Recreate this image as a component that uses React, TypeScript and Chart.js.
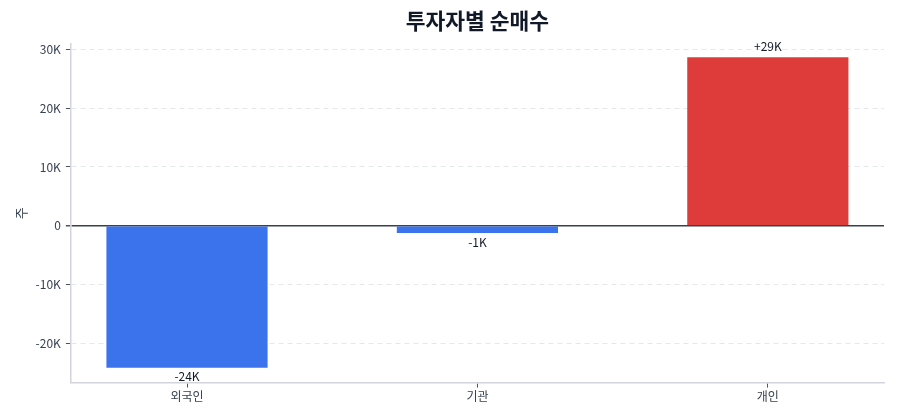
import React, { useEffect, useRef } from 'react'
import Chart, { ChartConfiguration, Plugin } from 'chart.js/auto'

const categories = ['외국인', '기관', '개인']
const netBuy = [-24100, -1200, 28600]
const barColors = ['#3b73ed', '#3b73ed', '#de3b3b']
const yTicks = [-20000, -10000, 0, 10000, 20000, 30000]
const yMin = -26600
const yMax = 30900

const FONT = "'Noto Sans CJK KR', 'Noto Sans', sans-serif"

const fmtK = (v: number) => (v === 0 ? '0' : `${Math.round(v / 1000)}K`)
const fmtSigned = (v: number) => (v > 0 ? '+' : '') + `${Math.round(v / 1000)}K`

// value labels above positive / below negative bars
const barLabels: Plugin<'bar'> = {
  id: 'barLabels',
  afterDatasetsDraw(chart) {
    const { ctx } = chart
    const meta = chart.getDatasetMeta(0)
    ctx.save()
    ctx.font = `12px ${FONT}`
    ctx.fillStyle = '#111827'
    ctx.textAlign = 'center'
    meta.data.forEach((el, i) => {
      const v = netBuy[i]
      const { x, y } = el.getProps(['x', 'y'], true) as { x: number; y: number }
      if (v >= 0) {
        ctx.textBaseline = 'bottom'
        ctx.fillText(fmtSigned(v), x, y - 5)
      } else {
        ctx.textBaseline = 'top'
        ctx.fillText(fmtSigned(v), x, y + 3)
      }
    })
    ctx.restore()
  },
}

const NetBuyChart = () => {
  const chartRef = useRef<HTMLCanvasElement>(null)
  const chartInstance = useRef<Chart<'bar'>>()

  useEffect(() => {
    document.body.style.margin = '0'
    if (chartRef.current) {
      const ctx = chartRef.current.getContext('2d')
      if (ctx) {
        const config: ChartConfiguration<'bar', { x: number; y: number }[], string> = {
          type: 'bar',
          data: {
            datasets: [
              {
                data: netBuy.map((y, x) => ({ x, y })),
                backgroundColor: barColors,
                barPercentage: 0.555,
                categoryPercentage: 1,
              },
            ],
          },
          options: {
            animation: false,
            responsive: true,
            maintainAspectRatio: false,
            layout: { padding: { left: 13, right: 16, top: 0, bottom: 14 } },
            plugins: {
              legend: { display: false },
              tooltip: { enabled: false },
              title: {
                display: true,
                fullSize: false,
                text: '투자자별 순매수',
                color: '#111827',
                font: { family: FONT, size: 21.5, weight: 'bold' },
                padding: { top: 8, bottom: 10 },
              },
            },
            scales: {
              x: {
                type: 'linear',
                min: -0.4,
                max: categories.length - 0.6,
                offset: false,
                afterBuildTicks: (scale) => {
                  scale.ticks = categories.map((_, value) => ({ value }))
                },
                grid: {
                  offset: false,
                  drawOnChartArea: false,
                  tickLength: 5,
                  tickColor: '#4b5563',
                },
                border: { color: '#d1d5db', width: 1.5 },
                ticks: {
                  color: '#374151',
                  font: { family: FONT, size: 12 },
                  padding: 2,
                  callback: (v) => categories[Number(v)] ?? '',
                },
              },
              y: {
                min: yMin,
                max: yMax,
                afterBuildTicks: (scale) => {
                  scale.ticks = yTicks.map((value) => ({ value }))
                },
                title: {
                  display: true,
                  text: '주',
                  color: '#374151',
                  font: { family: FONT, size: 13 },
                  padding: { top: 0, bottom: 2 },
                },
                grid: {
                  color: (c) => (c.tick && c.tick.value === 0 ? '#374151' : '#e5e7eb'),
                  lineWidth: (c) => (c.tick && c.tick.value === 0 ? 1.5 : 1),
                  tickLength: 5,
                  tickColor: '#4b5563',
                  tickBorderDash: [],
                },
                border: {
                  color: '#d1d5db',
                  width: 1.5,
                  dash: (c) => (c.tick && c.tick.value === 0 ? [] : [5, 4]),
                },
                ticks: {
                  color: '#374151',
                  font: { family: FONT, size: 12 },
                  padding: 5,
                  callback: (v) => fmtK(Number(v)),
                },
              },
            },
          },
          plugins: [barLabels],
        }
        chartInstance.current = new Chart(ctx, config)
      }
    }

    return () => {
      if (chartInstance.current) {
        chartInstance.current.destroy()
      }
    }
  }, [])

  return (
    <div style={{ position: 'relative', width: 900, height: 420 }}>
      <canvas ref={chartRef} />
    </div>
  )
}

export default function App() {
  return <NetBuyChart />
}
